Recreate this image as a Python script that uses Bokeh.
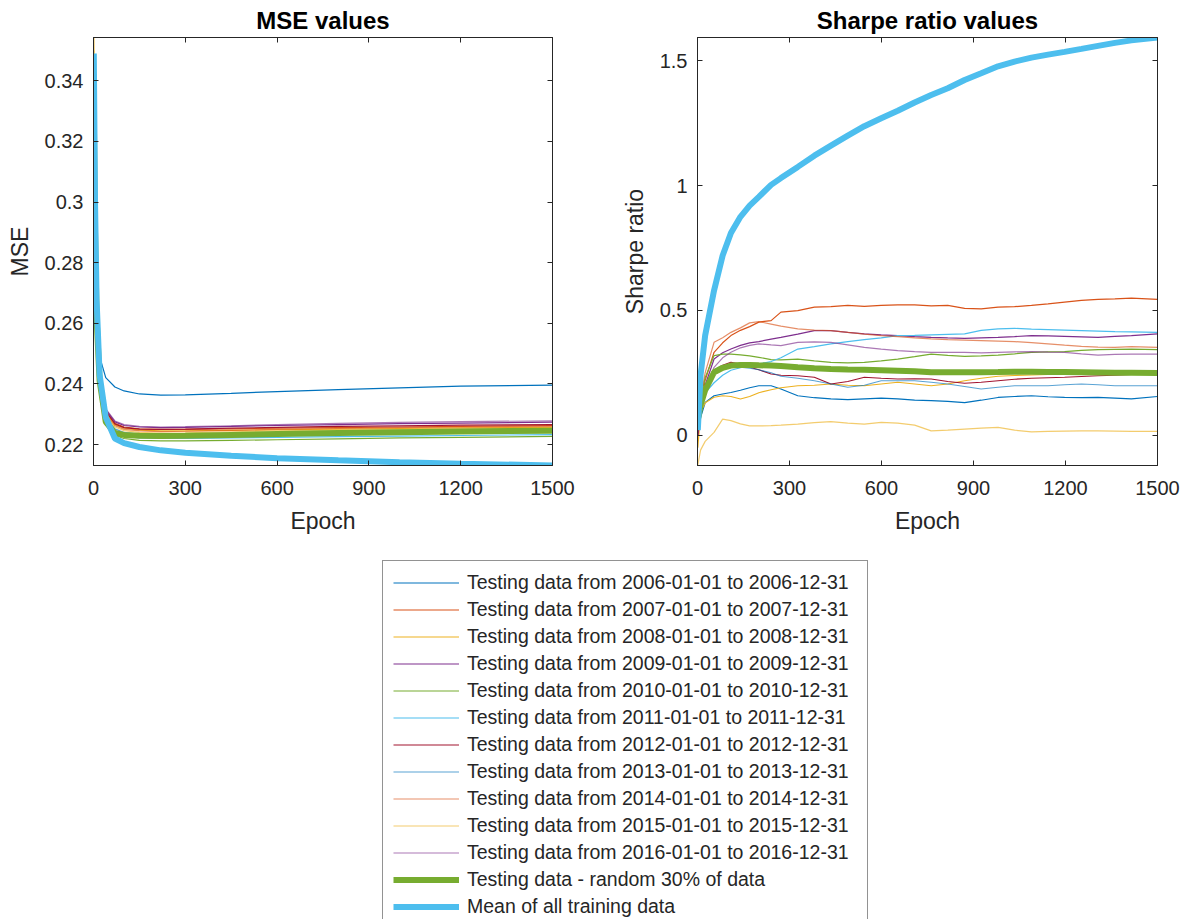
from bokeh.plotting import figure
from bokeh.models import (Range1d, FixedTicker, LinearAxis, CustomJSTickFormatter,
                          Legend, LegendItem)
from bokeh.layouts import column, row
from bokeh.embed import file_html
from bokeh.resources import INLINE

# ---------------- data ----------------
labels = [
    "Testing data from 2006-01-01 to 2006-12-31",
    "Testing data from 2007-01-01 to 2007-12-31",
    "Testing data from 2008-01-01 to 2008-12-31",
    "Testing data from 2009-01-01 to 2009-12-31",
    "Testing data from 2010-01-01 to 2010-12-31",
    "Testing data from 2011-01-01 to 2011-12-31",
    "Testing data from 2012-01-01 to 2012-12-31",
    "Testing data from 2013-01-01 to 2013-12-31",
    "Testing data from 2014-01-01 to 2014-12-31",
    "Testing data from 2015-01-01 to 2015-12-31",
    "Testing data from 2016-01-01 to 2016-12-31",
    "Testing data - random 30% of data",
    "Mean of all training data",
]

x_ticks = [0, 300, 600, 900, 1200, 1500]
mse_ticks = [0.22, 0.24, 0.26, 0.28, 0.30, 0.32, 0.34]
sharpe_ticks = [0, 0.5, 1.0, 1.5]

# MSE curves, sampled at these epochs
mse_epochs = [1, 5, 10, 20, 40, 70, 100, 150, 220, 300, 450, 600, 800, 1000, 1200, 1500]
mse_2006 = [0.330, 0.300, 0.280, 0.249, 0.2421, 0.2390, 0.2377, 0.2367, 0.2363, 0.2364, 0.2369, 0.2375, 0.2381, 0.2387, 0.2393, 0.2396]
mse_2007 = [0.345, 0.300, 0.270, 0.245, 0.2310, 0.2270, 0.2258, 0.2252, 0.2250, 0.2250, 0.2252, 0.2254, 0.2256, 0.2258, 0.2260, 0.2263]
mse_2008 = [0.3543, 0.310, 0.275, 0.247, 0.2305, 0.2265, 0.2254, 0.2248, 0.2245, 0.2245, 0.2247, 0.2249, 0.2251, 0.2253, 0.2255, 0.2257]
mse_2009 = [0.340, 0.300, 0.270, 0.246, 0.2315, 0.2275, 0.2263, 0.2258, 0.2256, 0.2257, 0.2260, 0.2263, 0.2266, 0.2269, 0.2271, 0.2274]
mse_2010 = [0.335, 0.290, 0.262, 0.240, 0.2265, 0.2230, 0.2220, 0.2214, 0.2212, 0.2212, 0.2214, 0.2216, 0.2219, 0.2222, 0.2224, 0.2227]
mse_2011 = [0.330, 0.290, 0.263, 0.241, 0.2275, 0.2238, 0.2228, 0.2222, 0.2220, 0.2220, 0.2222, 0.2224, 0.2226, 0.2228, 0.2230, 0.2233]
mse_2012 = [0.340, 0.300, 0.270, 0.245, 0.2310, 0.2268, 0.2256, 0.2251, 0.2250, 0.2251, 0.2254, 0.2257, 0.2260, 0.2262, 0.2264, 0.2266]
mse_2013 = [0.335, 0.295, 0.266, 0.243, 0.2290, 0.2252, 0.2240, 0.2234, 0.2232, 0.2233, 0.2236, 0.2239, 0.2242, 0.2245, 0.2247, 0.2250]
mse_2014 = [0.340, 0.300, 0.268, 0.244, 0.2300, 0.2262, 0.2250, 0.2245, 0.2243, 0.2244, 0.2247, 0.2250, 0.2253, 0.2256, 0.2258, 0.2260]
mse_2015 = [0.350, 0.305, 0.272, 0.246, 0.2295, 0.2258, 0.2246, 0.2240, 0.2238, 0.2239, 0.2242, 0.2245, 0.2248, 0.2250, 0.2252, 0.2254]
mse_2016 = [0.345, 0.300, 0.270, 0.246, 0.2318, 0.2278, 0.2266, 0.2260, 0.2258, 0.2259, 0.2262, 0.2266, 0.2270, 0.2273, 0.2276, 0.2278]
mse_random30 = [0.330, 0.290, 0.262, 0.241, 0.2275, 0.2238, 0.2232, 0.2229, 0.2228, 0.2229, 0.2232, 0.2235, 0.2238, 0.2241, 0.2243, 0.2246]
mse_train_mean = [0.349, 0.300, 0.268, 0.243, 0.2290, 0.2220, 0.2205, 0.2192, 0.2181, 0.2173, 0.2163, 0.2155, 0.2148, 0.2142, 0.2137, 0.2131]

# Sharpe ratio curves, sampled at these epochs
sr_epochs = [1, 10, 25, 54, 82, 109, 140, 170, 200, 240, 272, 327, 381, 435, 490, 544, 599,
             653, 708, 762, 816, 871, 925, 980, 1034, 1089, 1143, 1197, 1252, 1306, 1361, 1415, 1500]
sr_2006 = [0.000, 0.070, 0.131, 0.158, 0.165, 0.171, 0.180, 0.190, 0.198, 0.198, 0.185, 0.158, 0.150, 0.145, 0.142, 0.145, 0.148,
           0.145, 0.140, 0.138, 0.135, 0.130, 0.140, 0.151, 0.155, 0.158, 0.154, 0.151, 0.150, 0.151, 0.148, 0.145, 0.155]
sr_2007 = [0.000, 0.120, 0.220, 0.332, 0.370, 0.399, 0.420, 0.435, 0.453, 0.459, 0.493, 0.499, 0.513, 0.515, 0.520, 0.516, 0.520,
           0.522, 0.522, 0.518, 0.520, 0.508, 0.506, 0.513, 0.515, 0.520, 0.526, 0.533, 0.540, 0.544, 0.546, 0.549, 0.544]
sr_2008 = [-0.050, 0.091, 0.130, 0.152, 0.158, 0.155, 0.145, 0.155, 0.170, 0.182, 0.190, 0.198, 0.200, 0.205, 0.200, 0.198, 0.205,
           0.212, 0.205, 0.198, 0.205, 0.218, 0.228, 0.236, 0.239, 0.241, 0.243, 0.245, 0.247, 0.248, 0.249, 0.250, 0.252]
sr_2009 = [0.000, 0.100, 0.200, 0.305, 0.330, 0.345, 0.360, 0.370, 0.375, 0.385, 0.392, 0.405, 0.419, 0.419, 0.412, 0.406, 0.402,
           0.399, 0.395, 0.392, 0.390, 0.388, 0.390, 0.392, 0.395, 0.399, 0.398, 0.396, 0.394, 0.392, 0.396, 0.399, 0.406]
sr_2010 = [0.060, 0.150, 0.230, 0.319, 0.325, 0.325, 0.322, 0.318, 0.312, 0.303, 0.302, 0.305, 0.298, 0.292, 0.290, 0.292, 0.298,
           0.305, 0.315, 0.325, 0.320, 0.316, 0.318, 0.321, 0.326, 0.332, 0.334, 0.335, 0.340, 0.343, 0.344, 0.345, 0.343]
sr_2011 = [0.030, 0.100, 0.170, 0.210, 0.240, 0.260, 0.270, 0.280, 0.285, 0.295, 0.310, 0.345, 0.355, 0.366, 0.375, 0.383, 0.390,
           0.399, 0.400, 0.402, 0.404, 0.406, 0.420, 0.426, 0.428, 0.425, 0.423, 0.421, 0.419, 0.417, 0.415, 0.414, 0.412]
sr_2012 = [0.000, 0.100, 0.180, 0.260, 0.280, 0.292, 0.285, 0.272, 0.262, 0.245, 0.240, 0.238, 0.232, 0.205, 0.215, 0.232, 0.228,
           0.225, 0.226, 0.225, 0.215, 0.208, 0.212, 0.218, 0.224, 0.228, 0.230, 0.232, 0.235, 0.238, 0.240, 0.243, 0.245]
sr_2013 = [0.020, 0.100, 0.170, 0.245, 0.262, 0.272, 0.272, 0.268, 0.262, 0.250, 0.236, 0.228, 0.218, 0.205, 0.192, 0.200, 0.218,
           0.218, 0.218, 0.212, 0.205, 0.195, 0.185, 0.192, 0.198, 0.198, 0.198, 0.202, 0.205, 0.202, 0.198, 0.198, 0.198]
sr_2014 = [0.020, 0.150, 0.250, 0.372, 0.390, 0.412, 0.430, 0.450, 0.455, 0.445, 0.437, 0.426, 0.421, 0.419, 0.412, 0.405, 0.399,
           0.395, 0.390, 0.386, 0.383, 0.381, 0.379, 0.377, 0.375, 0.371, 0.366, 0.361, 0.356, 0.353, 0.352, 0.355, 0.352]
sr_2015 = [-0.120, -0.060, -0.025, 0.011, 0.064, 0.058, 0.045, 0.037, 0.037, 0.038, 0.040, 0.044, 0.050, 0.054, 0.048, 0.044, 0.051,
           0.048, 0.040, 0.017, 0.020, 0.024, 0.028, 0.031, 0.020, 0.013, 0.015, 0.016, 0.017, 0.017, 0.016, 0.015, 0.015]
sr_2016 = [0.010, 0.090, 0.180, 0.272, 0.310, 0.332, 0.350, 0.360, 0.366, 0.362, 0.359, 0.372, 0.374, 0.372, 0.362, 0.352, 0.345,
           0.339, 0.335, 0.332, 0.332, 0.332, 0.330, 0.332, 0.334, 0.335, 0.333, 0.332, 0.326, 0.321, 0.324, 0.325, 0.325]
sr_random30 = [0.060, 0.120, 0.180, 0.252, 0.270, 0.279, 0.281, 0.281, 0.280, 0.279, 0.277, 0.272, 0.268, 0.265, 0.263, 0.262, 0.260,
               0.258, 0.256, 0.252, 0.252, 0.252, 0.252, 0.253, 0.254, 0.254, 0.253, 0.253, 0.252, 0.251, 0.250, 0.250, 0.249]
sr_train_mean = [0.020, 0.240, 0.400, 0.580, 0.720, 0.810, 0.875, 0.920, 0.955, 1.003, 1.030, 1.075, 1.120, 1.160, 1.200, 1.238, 1.270,
                 1.300, 1.333, 1.363, 1.390, 1.423, 1.450, 1.478, 1.497, 1.513, 1.525, 1.536, 1.548, 1.560, 1.572, 1.582, 1.593]

mse_series = [mse_2006, mse_2007, mse_2008, mse_2009, mse_2010, mse_2011, mse_2012,
              mse_2013, mse_2014, mse_2015, mse_2016, mse_random30, mse_train_mean]
sr_series = [sr_2006, sr_2007, sr_2008, sr_2009, sr_2010, sr_2011, sr_2012,
             sr_2013, sr_2014, sr_2015, sr_2016, sr_random30, sr_train_mean]

# ---------------- styles ----------------
colors = ["#0072BD", "#D95319", "#EDB120", "#7E2F8E", "#77AC30", "#4DBEEE", "#A2142F",
          "#0072BD", "#D95319", "#EDB120", "#7E2F8E", "#77AC30", "#4DBEEE"]
alphas = [1, 1, 1, 1, 1, 1, 1, 0.65, 0.65, 0.65, 0.65, 1, 1]
widths = [1.2] * 11 + [6, 6]

FONT = "Liberation Sans"
AX = "#262626"

fmt = CustomJSTickFormatter(code="return String(Math.round(tick*100)/100);")
blank = CustomJSTickFormatter(code="return '';")


def make_panel(title, ylabel, yticks, yrange, xs, series, fw, border_left, border_right):
    p = figure(frame_width=fw, frame_height=428, min_border_left=border_left,
               min_border_right=border_right, min_border_top=35, min_border_bottom=77,
               x_range=Range1d(0, 1500), y_range=Range1d(*yrange),
               toolbar_location=None, output_backend="svg", title=title,
               background_fill_color="white", border_fill_color="white")
    p.title.text_font = FONT
    p.title.text_font_size = "24px"
    p.title.text_font_style = "bold"
    p.title.text_color = "#000000"
    p.title.align = "center"
    p.title.standoff = 8
    p.grid.visible = False
    p.outline_line_color = AX
    p.outline_line_width = 1

    p.xaxis.ticker = FixedTicker(ticks=x_ticks)
    p.yaxis.ticker = FixedTicker(ticks=yticks)
    p.yaxis.formatter = fmt
    p.xaxis.formatter = fmt
    p.xaxis.axis_label = "Epoch"
    p.yaxis.axis_label = ylabel
    for ax in (p.xaxis[0], p.yaxis[0]):
        ax.axis_line_color = AX
        ax.major_tick_line_color = AX
        ax.major_tick_in = 5
        ax.major_tick_out = 0
        ax.minor_tick_line_color = None
        ax.major_label_text_font = FONT
        ax.major_label_text_font_size = "20px"
        ax.major_label_text_color = AX
        ax.axis_label_text_font = FONT
        ax.axis_label_text_font_size = "23px"
        ax.axis_label_text_font_style = "normal"
        ax.axis_label_text_color = AX
    p.xaxis.major_label_standoff = 15
    p.yaxis.major_label_standoff = 10
    p.xaxis.axis_label_standoff = 10
    p.yaxis.axis_label_standoff = 9

    # mirrored ticks on top and right (box on)
    for loc, tk in (("above", x_ticks), ("right", yticks)):
        ax = LinearAxis(ticker=FixedTicker(ticks=tk), formatter=blank,
                        axis_line_color=AX, major_tick_line_color=AX,
                        major_tick_in=5, major_tick_out=0,
                        minor_tick_line_color=None, major_label_standoff=0,
                        major_label_text_font_size="0px")
        p.add_layout(ax, loc)

    for i, ys in enumerate(series):
        p.line(xs, ys, line_color=colors[i], line_alpha=alphas[i], line_width=widths[i])
    return p


p1 = make_panel("MSE values", "MSE", mse_ticks, (0.2131, 0.3543), mse_epochs, mse_series, 459, 93, 50)
p2 = make_panel("Sharpe ratio values", "Sharpe ratio", sharpe_ticks, (-0.1216, 1.5935), sr_epochs, sr_series, 460, 95, 38)

# legend figure below both panels; its proxy lines carry the MSE data but lie
# outside this figure's visible range, so only their legend samples show
p3 = figure(width=1195, height=379, x_range=Range1d(-2, -1), y_range=Range1d(-2, -1),
            min_border=0, toolbar_location=None, output_backend="svg",
            x_axis_location=None, y_axis_location=None, outline_line_color=None,
            background_fill_color="white", border_fill_color="white")
p3.grid.visible = False
items = []
for i, lab in enumerate(labels):
    r = p3.line(mse_epochs, mse_series[i], line_color=colors[i], line_alpha=alphas[i],
                line_width=widths[i])
    items.append(LegendItem(label=lab, renderers=[r]))
legend = Legend(items=items, location=(382, -8), margin=0, padding=10, spacing=4,
                glyph_width=66, glyph_height=23, label_height=23, label_width=390,
                label_standoff=8,
                label_text_font=FONT, label_text_font_size="19.5px", label_text_color=AX,
                border_line_color=AX, border_line_width=1,
                background_fill_color="white", background_fill_alpha=1)
p3.add_layout(legend, "center")

layout = column(row(p1, p2), p3)
open("out.html", "w").write(file_html(layout, INLINE))
